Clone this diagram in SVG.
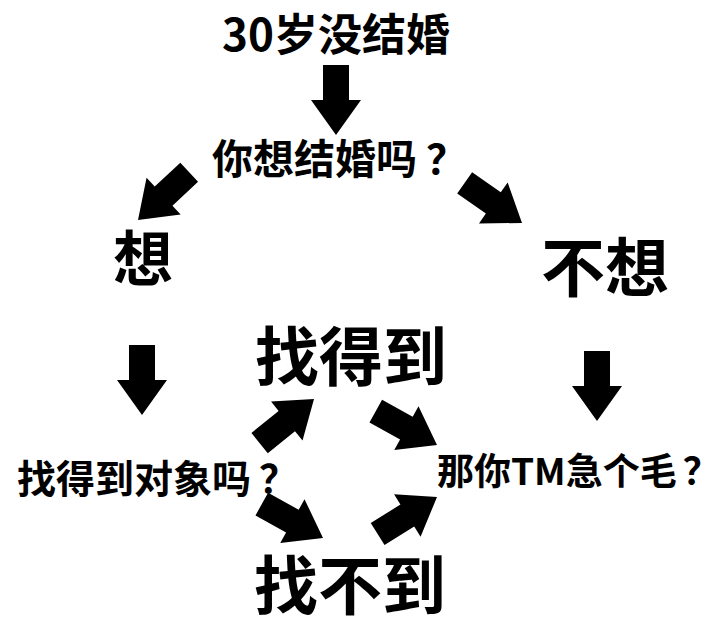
<svg xmlns="http://www.w3.org/2000/svg" xmlns:xlink="http://www.w3.org/1999/xlink" width="720" height="642" viewBox="0 0 720 642">
<style>
text{font-family:"Noto Sans CJK SC","Noto Sans",sans-serif;font-weight:700;fill:#000;text-anchor:middle}
text.l{text-anchor:start}
.big{font-size:64px}
.mid{font-size:60px}
.q{font-size:41px}
.s{font-size:39px}
.arrow{fill:#000}
</style>
<defs>
<path id="arr" d="M-70,-13 L-35,-13 L-35,-25 L0,0 L-35,25 L-35,13 L-70,13 Z"/>
</defs>
<rect width="720" height="642" fill="#fff"/>
<g id="n-title"><text x="336" y="51" style="font-size:44px">30岁没结婚</text></g>
<g id="n-want-q"><text x="212" y="174" class="q l">你想结婚吗<tspan dx="9">？</tspan></text></g>
<g id="n-want"><text x="143" y="281" class="mid">想</text></g>
<g id="n-notwant"><text x="605" y="291" class="big">不想</text></g>
<g id="n-find-q"><text x="17" y="493" class="s l">找得到对象吗<tspan dx="8">？</tspan></text></g>
<g id="n-found"><text x="351" y="380" class="big">找得到</text></g>
<g id="n-notfound"><text x="350" y="609" class="big">找不到</text></g>
<g id="n-why"><text x="437" y="485" class="l" style="font-size:37px">那你TM急个毛<tspan dx="6">？</tspan></text></g>
<g id="connectors" class="arrow">
<use xlink:href="#arr" transform="translate(336,135) rotate(90)"/>
<use xlink:href="#arr" transform="translate(138,220) rotate(137)"/>
<use xlink:href="#arr" transform="translate(522,223) rotate(35)"/>
<use xlink:href="#arr" transform="translate(142,415) rotate(90)"/>
<use xlink:href="#arr" transform="translate(597,421) rotate(90)"/>
<use xlink:href="#arr" transform="translate(314,399) rotate(-39)"/>
<use xlink:href="#arr" transform="translate(437,445) rotate(29)"/>
<use xlink:href="#arr" transform="translate(323,538) rotate(29)"/>
<use xlink:href="#arr" transform="translate(437,497) rotate(-32)"/>
</g>
</svg>
